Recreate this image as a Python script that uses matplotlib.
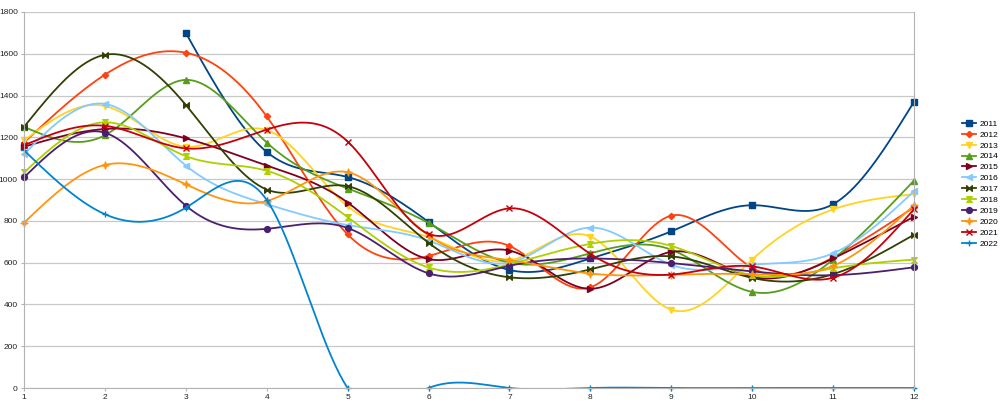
import numpy as np
import matplotlib
matplotlib.use('Agg')
import matplotlib.pyplot as plt
from matplotlib.path import Path

plt.rcParams['font.family'] = ['Liberation Sans', 'DejaVu Sans']

months = list(range(1, 13))
nan = np.nan

# values, one list per year
y2011 = [nan, nan, 1700, 1130, 1010, 795, 565, 620, 750, 875, 880, 1370]
y2012 = [1175, 1500, 1605, 1300, 735, 632, 680, 482, 825, 575, 625, 865]
y2013 = [1185, 1350, 1155, 1235, 870, 722, 610, 725, 375, 615, 855, 928]
y2014 = [1250, 1210, 1475, 1175, 955, 790, 600, 645, 662, 460, 615, 993]
y2015 = [1155, 1240, 1195, 1065, 888, 617, 658, 475, 652, 532, 620, 820]
y2016 = [1120, 1360, 1065, 880, 780, 706, 600, 768, 590, 590, 645, 942]
y2017 = [1250, 1595, 1355, 950, 966, 695, 530, 568, 630, 527, 545, 734]
y2018 = [1032, 1272, 1110, 1040, 818, 577, 592, 690, 680, 540, 573, 615]
y2019 = [1008, 1222, 873, 762, 766, 549, 585, 620, 598, 558, 540, 578]
y2020 = [791, 1068, 975, 895, 1033, 730, 612, 548, 542, 545, 585, 875]
y2021 = [1162, 1255, 1147, 1237, 1180, 738, 860, 642, 543, 582, 528, 856]
y2022 = [1138, 832, 863, 900, 0, 0, 0, 0, 0, 0, 0, 0]

years = ['2011', '2012', '2013', '2014', '2015', '2016',
         '2017', '2018', '2019', '2020', '2021', '2022']
series = [y2011, y2012, y2013, y2014, y2015, y2016,
          y2017, y2018, y2019, y2020, y2021, y2022]

colors = ['#004586', '#ff420e', '#ffd320', '#579d1c', '#7e0021', '#83caff',
          '#314004', '#aecf00', '#4b1f6f', '#ff950e', '#c5000b', '#0084d1']

# custom symbols like the office chart defaults
bowtie = Path([(-1, -1), (0, 0), (-1, 1), (-1, -1), (1, -1), (0, 0), (1, 1), (1, -1)],
              [1, 2, 2, 79, 1, 2, 2, 79])
hourglass = Path([(-1, 1), (0, 0), (1, 1), (-1, 1), (-1, -1), (0, 0), (1, -1), (-1, -1)],
                 [1, 2, 2, 79, 1, 2, 2, 79])
star4 = Path([(0, 1), (0.25, 0.25), (1, 0), (0.25, -0.25), (0, -1), (-0.25, -0.25),
              (-1, 0), (-0.25, 0.25), (0, 1)], [1, 2, 2, 2, 2, 2, 2, 2, 79])
markers = ['s', 'D', 'v', '^', '>', '<', bowtie, hourglass, 'o', star4, 'x', '+']
msizes = [4.2, 3.2, 4.2, 4.2, 4.2, 4.2, 4.0, 4.0, 4.2, 5.0, 4.0, 5.0]


def natural_spline(x, y, steps=40):
    # natural cubic spline through the points, for the smooth line look
    x = np.asarray(x, float)
    y = np.asarray(y, float)
    n = len(x)
    h = np.diff(x)
    A = np.zeros((n, n))
    b = np.zeros(n)
    A[0, 0] = 1
    A[-1, -1] = 1
    for i in range(1, n - 1):
        A[i, i - 1] = h[i - 1]
        A[i, i] = 2 * (h[i - 1] + h[i])
        A[i, i + 1] = h[i]
        b[i] = 6 * ((y[i + 1] - y[i]) / h[i] - (y[i] - y[i - 1]) / h[i - 1])
    M = np.linalg.solve(A, b)
    xs, ys = [], []
    for i in range(n - 1):
        t = np.linspace(x[i], x[i + 1], steps)
        a = (x[i + 1] - t) / h[i]
        c = (t - x[i]) / h[i]
        s = (a * y[i] + c * y[i + 1]
             + ((a ** 3 - a) * M[i] + (c ** 3 - c) * M[i + 1]) * h[i] ** 2 / 6)
        xs.append(t)
        ys.append(s)
    return np.concatenate(xs), np.concatenate(ys)


fig = plt.figure(figsize=(10, 4.04), dpi=100)
ax = fig.add_axes([0.024, 0.0396, 0.89, 0.9307])

x = np.array(months, float)
for name, vals, col, mk, ms in zip(years, series, colors, markers, msizes):
    v = np.array(vals, float)
    ok = ~np.isnan(v)
    sx, sy = natural_spline(x[ok], v[ok])
    ax.plot(sx, sy, color=col, lw=1.3)
    ax.plot(x[ok], v[ok], ls='none', marker=mk, ms=ms, color=col, mew=1.0,
            clip_on=False)
    # proxy for the legend
    ax.plot([], [], color=col, lw=1.3, marker=mk, ms=ms, mew=1.0, label=name)

ax.set_xlim(1, 12)
ax.set_ylim(0, 1800)
ax.set_xticks(months)
ax.set_yticks(range(0, 1801, 200))
ax.grid(axis='y', color='#c8c8c8', lw=0.9)
ax.set_axisbelow(True)
for side in ['left', 'right', 'bottom']:
    ax.spines[side].set_color('#b3b3b3')
ax.spines['top'].set_visible(False)
ax.tick_params(labelsize=6, length=2.5, color='#b3b3b3', pad=2, labelcolor='#222222')

handles, labels = ax.get_legend_handles_labels()
ax.legend(handles[-12:], labels[-12:], loc='center left', bbox_to_anchor=(0.958, 0.545),
          bbox_transform=fig.transFigure, frameon=False, fontsize=6,
          handlelength=1.7, handletextpad=0.4, labelspacing=0.37, borderpad=0)

fig.savefig('out.png')
